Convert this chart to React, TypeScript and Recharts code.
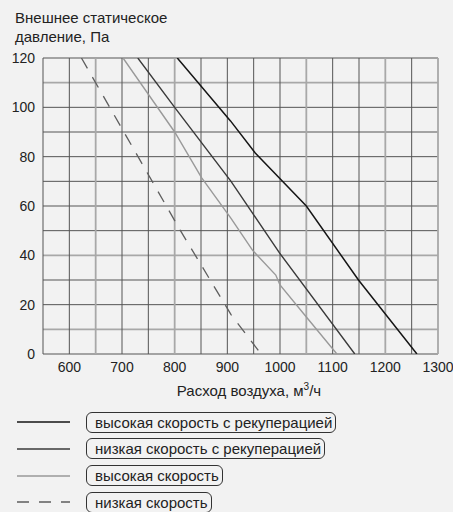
import { Line, LineChart, ReferenceLine, XAxis, YAxis } from 'recharts'

// оси и сетка
const X_TICKS = [600, 700, 800, 900, 1000, 1100, 1200, 1300]
const Y_TICKS = [0, 20, 40, 60, 80, 100, 120]
const GRID_X = [550, 600, 650, 700, 750, 800, 850, 900, 950, 1000, 1050, 1100, 1150, 1200, 1250, 1300]
const GRID_Y = [0, 10, 20, 30, 40, 50, 60, 70, 80, 90, 100, 110, 120]
const GRID_X_PALE = [650, 800, 1050, 1200, 1300]
const GRID_Y_PALE = [110, 40, 10]

// расход, м3/ч — давление, Па
const highRecFlow = [805, 906, 953, 1050, 1149, 1260]
const highRecPressure = [120, 94.5, 81.5, 60, 30, 0]

const lowRecFlow = [730, 800, 907, 999, 1142]
const lowRecPressure = [120, 100, 70, 41, 0]

const highFlow = [702, 800, 851, 907, 948, 992, 1000, 1052, 1108]
const highPressure = [120, 90, 71.5, 55, 42, 32, 28, 14.5, 0]

const lowFlow = [623, 811, 907, 964]
const lowPressure = [120, 50, 16, 0]

const FONT = '"Liberation Sans", Arial, Helvetica, sans-serif'
const TEXT = '#222'

type Series = {
  name: string
  flow: number[]
  pressure: number[]
  color: string
  width: number
  dash?: string
}

const SERIES: Series[] = [
  { name: 'высокая скорость с рекуперацией', flow: highRecFlow, pressure: highRecPressure, color: '#151515', width: 1.5 },
  { name: 'низкая скорость с рекуперацией', flow: lowRecFlow, pressure: lowRecPressure, color: '#3a3a3a', width: 1.4 },
  { name: 'высокая скорость', flow: highFlow, pressure: highPressure, color: '#999', width: 1.4 },
  { name: 'низкая скорость', flow: lowFlow, pressure: lowPressure, color: '#5e5e5e', width: 1.3, dash: '12 10' },
]

const toRows = (s: Series) => s.flow.map((x, i) => ({ x, y: s.pressure[i] }))

export default function App() {
  const tick = { fill: TEXT, fontSize: 14, fontFamily: FONT }
  return (
    <div
      style={{
        position: 'absolute',
        left: 0,
        top: 0,
        width: 453,
        height: 512,
        background: '#f2f2f2',
        fontFamily: FONT,
        color: TEXT,
      }}
    >
      <div style={{ position: 'absolute', left: 15, top: 8, fontSize: 15, lineHeight: '19px' }}>
        Внешнее статическое
        <br />
        давление, Па
      </div>

      <LineChart width={453} height={384} margin={{ top: 58, right: 15, bottom: 0, left: 0 }}>
        <XAxis
          type="number"
          dataKey="x"
          domain={[550, 1300]}
          ticks={X_TICKS}
          allowDataOverflow
          height={30}
          axisLine={false}
          tickLine={false}
          tickSize={0}
          tickMargin={8}
          tick={tick}
        />
        <YAxis
          type="number"
          domain={[0, 120]}
          ticks={Y_TICKS}
          allowDataOverflow
          width={43}
          axisLine={false}
          tickLine={false}
          tickSize={0}
          tickMargin={8}
          tick={tick}
        />
        {GRID_Y.map((v) => {
          const pale = GRID_Y_PALE.includes(v)
          return (
            <ReferenceLine
              key={'y' + v}
              y={v}
              stroke={pale ? '#a8a8a8' : '#555'}
              strokeWidth={pale ? 1.6 : 1}
            />
          )
        })}
        {GRID_X.map((v) => {
          const pale = GRID_X_PALE.includes(v)
          return (
            <ReferenceLine
              key={'x' + v}
              x={v}
              stroke={pale ? '#a8a8a8' : '#555'}
              strokeWidth={pale ? 1.8 : 1}
            />
          )
        })}
        {SERIES.map((s) => (
          <Line
            key={s.name}
            data={toRows(s)}
            dataKey="y"
            name={s.name}
            type="linear"
            stroke={s.color}
            strokeWidth={s.width}
            strokeDasharray={s.dash}
            dot={false}
            activeDot={false}
            isAnimationActive={false}
          />
        ))}
      </LineChart>

      <div
        style={{
          position: 'absolute',
          left: 0,
          width: 498,
          top: 381,
          textAlign: 'center',
          fontSize: 15,
          lineHeight: '20px',
        }}
      >
        Расход воздуха, м<sup style={{ fontSize: 10, verticalAlign: 6, lineHeight: 0 }}>3</sup>/ч
      </div>

      {SERIES.map((s, i) => (
        <div
          key={s.name}
          style={{ position: 'absolute', left: 14, top: 412 + i * 26.8, height: 20, display: 'flex', alignItems: 'center' }}
        >
          <svg width={56} height={4} style={{ display: 'block' }}>
            <line x1={3} y1={2} x2={56} y2={2} stroke={s.color} strokeWidth={s.width} strokeDasharray={s.dash ? '12 10' : undefined} />
          </svg>
          <div
            style={{
              marginLeft: 16,
              height: 19,
              lineHeight: '19px',
              border: '1px solid #333',
              borderRadius: 6,
              padding: '0 3px 0 8px',
              fontSize: 15,
              whiteSpace: 'nowrap',
            }}
          >
            {s.name}
          </div>
        </div>
      ))}
    </div>
  )
}
